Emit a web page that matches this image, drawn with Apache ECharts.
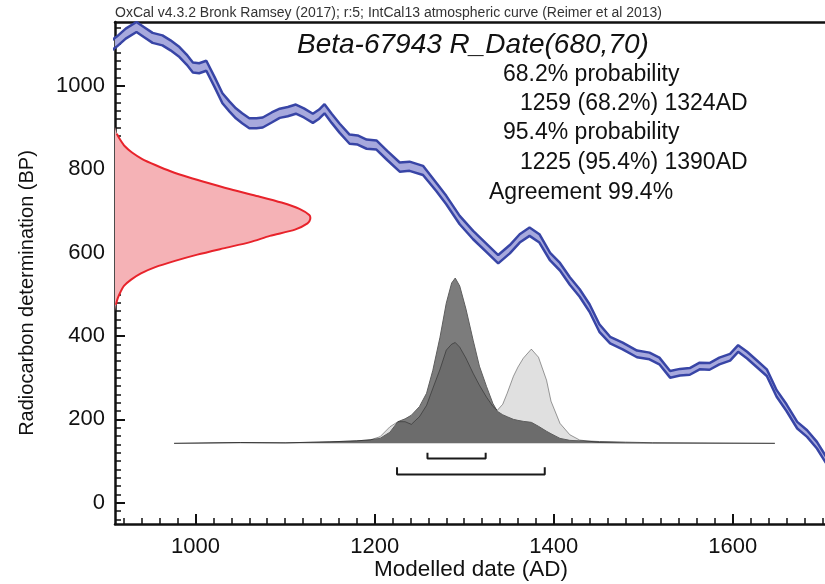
<!DOCTYPE html>
<html><head><meta charset="utf-8">
<script src="https://cdn.jsdelivr.net/npm/echarts@6/dist/echarts.min.js"></script>
<style>html,body{margin:0;padding:0;background:#fff}#c{width:825px;height:584px}</style>
</head><body><div id="c"></div>
<script>
// Calibration curve (IntCal13): date AD, BP, +/- error
const calDates = [905,912,922,934,943,952,963,972,982,990,997,1004,1012,1021,1030,1038,1045,1052,1060,1068,1075,1085,1094,1103,1112,1121,1131,1138,1144,1152,1161,1172,1181,1191,1202,1214,1228,1239,1254,1269,1280,1295,1310,1325,1338,1351,1362,1373,1384,1396,1407,1418,1429,1440,1451,1463,1477,1493,1507,1518,1530,1541,1552,1563,1574,1585,1597,1606,1616,1627,1638,1649,1660,1672,1683,1694,1705];
const calBP = [1095,1106,1125,1141,1128,1115,1109,1097,1081,1063,1044,1042,1048,1010,970,950,934,922,910,910,912,924,934,938,944,935,922,932,945,922,898,872,870,860,858,833,805,807,797,757,726,678,642,611,584,608,634,650,634,590,566,532,503,467,419,390,376,357,352,340,308,313,315,328,327,340,349,370,354,333,312,262,228,186,166,138,100];
const calErr = [12,12,12,12,12,12,12,12,12,12,12,12,12,12,12,12,12,12,12,12,12,12,11,11,11,11,11,11,11,11,11,11,11,11,11,11,11,11,11,10,10,10,10,10,10,10,10,10,10,9,9,9,9,9,9,8,8,8,8,8,8,8,8,8,8,8,8,8,8,8,8,8,8,8,8,8,8];

// Radiocarbon determination 680 +/- 70 BP, drawn along the BP axis
const redBP = [900,885,870,855,840,825,810,795,780,765,750,735,720,705,690,680,670,655,640,625,610,595,580,565,550,535,520,505,490,475,460];
const redDate = [910,912,916,921,929,940,955,972,993,1017,1042,1070,1096,1116,1127,1128,1125,1111,1083,1061,1031,1002,977,955,939,928,920,916,913,911,910];

// Calibrated distributions (relative probability)
const distDates = [976,1050,1100,1150,1180,1195,1206,1217,1226,1234,1241,1250,1258,1265,1273,1280,1286,1290,1295,1302,1310,1317,1325,1332,1337,1343,1348,1355,1360,1366,1375,1383,1392,1397,1407,1418,1429,1451,1480,1510,1647];
const posterior = [0,0.005,0.003,0.009,0.015,0.021,0.03,0.067,0.131,0.148,0.17,0.222,0.303,0.442,0.642,0.848,0.97,1.0,0.952,0.812,0.624,0.467,0.343,0.242,0.194,0.173,0.161,0.145,0.139,0.133,0.127,0.103,0.073,0.058,0.03,0.018,0.015,0.011,0.007,0.004,0];
const likelihood = [0,0.005,0.003,0.009,0.015,0.021,0.04,0.1,0.131,0.131,0.115,0.161,0.23,0.333,0.448,0.564,0.6,0.61,0.582,0.515,0.424,0.352,0.279,0.224,0.2,0.236,0.303,0.406,0.461,0.515,0.57,0.521,0.382,0.255,0.121,0.052,0.02,0.005,0.002,0,0];

// Ranges
const range68 = [1259, 1324];
const range95 = [1225, 1390];

// Ticks
const xMajorTicks = [1000, 1200, 1400, 1600];
const yMajorTicks = [0, 200, 400, 600, 800, 1000];

// Texts
const headerText = 'OxCal v4.3.2 Bronk Ramsey (2017); r:5; IntCal13 atmospheric curve (Reimer et al 2013)';
const titleText = 'Beta-67943 R_Date(680,70)';
const infoLines = ['68.2% probability', '1259 (68.2%) 1324AD', '95.4% probability', '1225 (95.4%) 1390AD', 'Agreement 99.4%'];
const xName = 'Modelled date (AD)';
const yName = 'Radiocarbon determination (BP)';

// ---- build ----
const FONT = '"Liberation Sans", Arial, Helvetica, sans-serif';
const XMIN = 910, XMAX = 1703, YMIN = -51, YMAX = 1153;
const xMinor = []; for (let v = 920; v <= 1700; v += 20) if (v % 200) xMinor.push(v);
const yMinor = []; for (let v = -40; v <= 1140; v += 20) if (v % 200) yMinor.push(v);

const upper = calDates.map((d, i) => [d, calBP[i] + calErr[i]]);
const lower = calDates.map((d, i) => [d, calBP[i] - calErr[i]]);
const redPts = redDate.map((d, i) => [d, redBP[i]]);
const postPts = distDates.map((d, i) => [d, posterior[i]]);
const likePts = distDates.map((d, i) => [d, likelihood[i]]);

function bracket(r, yBar, yTop) {
  return [[r[0], yTop], [r[0], yBar], [r[1], yBar], [r[1], yTop]];
}

const chart = echarts.init(document.getElementById('c'), null, {renderer: 'canvas'});
const blue = '#3845a6';

const infoX = [503, 520, 503, 520, 489];
const infoY = [75, 104, 133, 163, 193];

const graphics = [
  {type: 'text', x: 115, y: 20, style: {text: headerText, fontFamily: FONT, fontSize: 14, fill: '#333', align: 'left', verticalAlign: 'bottom'}},
  {type: 'text', x: 297, y: 45, style: {text: titleText, fontFamily: FONT, fontSize: 28, fontStyle: 'italic', fill: '#111', align: 'left', verticalAlign: 'middle'}},
  {type: 'text', x: 471, y: 570, style: {text: xName, fontFamily: FONT, fontSize: 22.5, fill: '#111', align: 'center', verticalAlign: 'middle'}},
  {type: 'text', x: 27, y: 293, rotation: Math.PI / 2, style: {text: yName, fontFamily: FONT, fontSize: 20, fill: '#111', align: 'center', verticalAlign: 'middle'}}
];
infoLines.forEach((t, i) => graphics.push({type: 'text', x: infoX[i], y: infoY[i], style: {text: t, fontFamily: FONT, fontSize: 23, fill: '#111', align: 'left', verticalAlign: 'middle'}}));

const axisLineStyle = {color: '#111', width: 2.5};
const plain = v => String(v);
const blank = () => '';

chart.setOption({
  animation: false,
  backgroundColor: '#fff',
  grid: {left: 115, right: 0, top: 22, bottom: 60, containLabel: false, outerBoundsMode: 'none'},
  xAxis: [
    {type: 'value', min: XMIN, max: XMAX, position: 'bottom',
     axisLine: {show: true, onZero: false, lineStyle: axisLineStyle},
     axisTick: {show: true, inside: true, length: 10, customValues: xMajorTicks, lineStyle: {color: '#111', width: 2}},
     axisLabel: {show: true, customValues: xMajorTicks, formatter: plain, fontFamily: FONT, fontSize: 22, color: '#111', margin: 12},
     splitLine: {show: false}},
    {type: 'value', min: XMIN, max: XMAX, position: 'bottom',
     axisLine: {show: true, onZero: false, lineStyle: {color: 'rgba(0,0,0,0)', width: 0}},
     axisTick: {show: true, inside: true, length: 6, customValues: xMinor, lineStyle: {color: '#111', width: 1.5}},
     axisLabel: {show: true, customValues: xMajorTicks, formatter: blank, fontSize: 1}, splitLine: {show: false}},
    {type: 'value', min: XMIN, max: XMAX, position: 'top',
     axisLine: {show: true, onZero: false, lineStyle: axisLineStyle},
     axisTick: {show: false}, axisLabel: {show: false}, splitLine: {show: false}}
  ],
  yAxis: [
    {type: 'value', min: YMIN, max: YMAX, position: 'left',
     axisLine: {show: true, onZero: false, lineStyle: axisLineStyle},
     axisTick: {show: true, inside: true, length: 10, customValues: yMajorTicks, lineStyle: {color: '#111', width: 2}},
     axisLabel: {show: true, customValues: yMajorTicks, formatter: plain, fontFamily: FONT, fontSize: 22, color: '#111', margin: 10},
     splitLine: {show: false}},
    {type: 'value', min: YMIN, max: YMAX, position: 'left',
     axisLine: {show: true, onZero: false, lineStyle: {color: 'rgba(0,0,0,0)', width: 0}},
     axisTick: {show: true, inside: true, length: 6, customValues: yMinor, lineStyle: {color: '#111', width: 1.5}},
     axisLabel: {show: true, customValues: yMajorTicks, formatter: blank, fontSize: 1}, splitLine: {show: false}},
    {type: 'value', min: -0.488, max: 2.549, show: false, axisLine: {onZero: false}, splitLine: {show: false}}
  ],
  graphic: graphics,
  series: [
    {type: 'custom', name: 'cal band', xAxisIndex: 0, yAxisIndex: 0, clip: true, z: 1,
     data: upper,
     renderItem: function (params, api) {
       if (params.dataIndex !== 0) return null;
       const pts = upper.map(p => api.coord(p)).concat(lower.slice().reverse().map(p => api.coord(p)));
       return {type: 'polygon', shape: {points: pts}, style: {fill: '#a7a9dd', stroke: null}};
     }},
    {type: 'line', name: 'cal upper', xAxisIndex: 0, yAxisIndex: 0, data: upper, showSymbol: false, symbol: 'none', z: 3,
     lineStyle: {color: blue, width: 2.5}},
    {type: 'line', name: 'cal lower', xAxisIndex: 0, yAxisIndex: 0, data: lower, showSymbol: false, symbol: 'none', z: 3,
     lineStyle: {color: blue, width: 2.5}},
    {type: 'custom', name: 'R_Date', xAxisIndex: 0, yAxisIndex: 0, clip: true, z: 2,
     data: redPts,
     renderItem: function (params, api) {
       if (params.dataIndex !== 0) return null;
       const pts = redPts.map(p => api.coord(p));
       return {type: 'group', children: [
         {type: 'polygon', shape: {points: pts, smooth: 0.25}, style: {fill: '#f5b2b6', stroke: null}},
         {type: 'polyline', shape: {points: pts.slice(1, pts.length - 1), smooth: 0.25}, style: {stroke: '#e8232b', lineWidth: 2, fill: null}}
       ]};
     }},
    {type: 'line', name: 'posterior', xAxisIndex: 0, yAxisIndex: 2, data: postPts, symbol: 'none', z: 2,
     lineStyle: {color: '#5e5e5e', width: 1},
     areaStyle: {color: '#7c7c7c', opacity: 1}},
    {type: 'line', name: 'likelihood', xAxisIndex: 0, yAxisIndex: 2, data: likePts, symbol: 'none', z: 2,
     lineStyle: {color: 'rgba(0,0,0,0.38)', width: 1},
     areaStyle: {color: 'rgba(0,0,0,0.12)', opacity: 1}},
    {type: 'line', name: '68.2%', xAxisIndex: 0, yAxisIndex: 2, data: bracket(range68, -0.091, -0.057), symbol: 'none', z: 3,
     lineStyle: {color: '#1a1a1a', width: 2}},
    {type: 'line', name: '95.4%', xAxisIndex: 0, yAxisIndex: 2, data: bracket(range95, -0.188, -0.145), symbol: 'none', z: 3,
     lineStyle: {color: '#1a1a1a', width: 2}}
  ]
});
</script>
</body></html>
